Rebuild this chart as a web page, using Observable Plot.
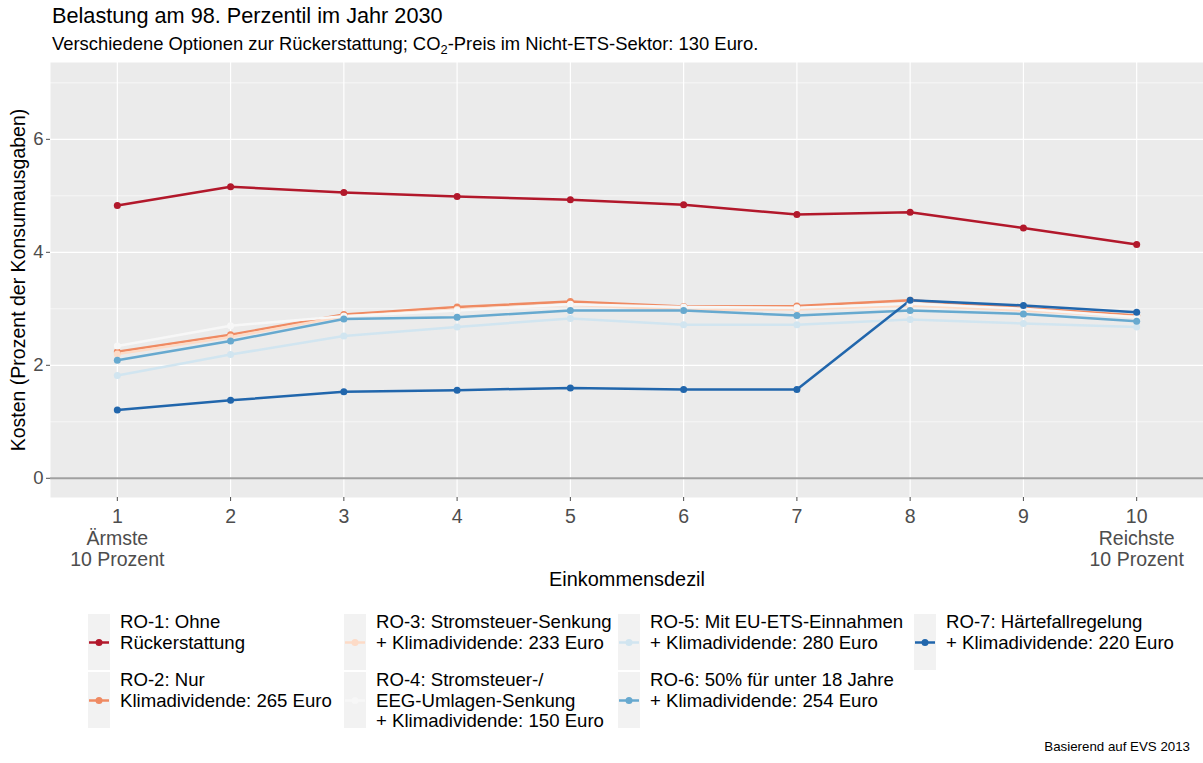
<!DOCTYPE html>
<html><head><meta charset="utf-8">
<script src="https://cdn.jsdelivr.net/npm/d3@7"></script>
<script src="https://cdn.jsdelivr.net/npm/@observablehq/plot@0.6"></script>
<style>
body{margin:0;background:#fff;font-family:"Liberation Sans",Arial,sans-serif;color:#000;}
#wrap{position:relative;width:1203px;height:763px;overflow:hidden;}
#title{position:absolute;left:52px;top:5px;font-size:21.7px;line-height:1;white-space:nowrap;}
#subtitle{position:absolute;left:52px;top:35px;font-size:18.4px;line-height:1;white-space:nowrap;}
#subtitle .sub{font-size:0.7em;position:relative;top:0.3em;}
#chart{position:absolute;left:0;top:55px;}
.leg{position:absolute;}
.legtext{position:absolute;font-size:18.6px;line-height:20.5px;white-space:pre;}
#caption{position:absolute;right:13px;top:740px;font-size:13.3px;line-height:1;white-space:nowrap;}
</style></head><body>
<div id="wrap">
 <div id="title">Belastung am 98. Perzentil im Jahr 2030</div>
 <div id="subtitle">Verschiedene Optionen zur Rückerstattung; CO<span class="sub">2</span>-Preis im Nicht-ETS-Sektor: 130 Euro.</div>
 <div id="chart"></div>
 <div id="legend"></div>
 <div id="caption">Basierend auf EVS 2013</div>
</div>
<script>
const deciles = [1, 2, 3, 4, 5, 6, 7, 8, 9, 10];
const decileTickLabels = ["1\nÄrmste\n10 Prozent", "2", "3", "4", "5", "6", "7", "8", "9", "10\nReichste\n10 Prozent"];
const yTicks = [0, 2, 4, 6];

const seriesNames = ["RO-1", "RO-2", "RO-3", "RO-4", "RO-5", "RO-6", "RO-7"];
const seriesLabels = [
  "RO-1: Ohne\nRückerstattung",
  "RO-2: Nur\nKlimadividende: 265 Euro",
  "RO-3: Stromsteuer-Senkung\n+ Klimadividende: 233 Euro",
  "RO-4: Stromsteuer-/\nEEG-Umlagen-Senkung\n+ Klimadividende: 150 Euro",
  "RO-5: Mit EU-ETS-Einnahmen\n+ Klimadividende: 280 Euro",
  "RO-6: 50% für unter 18 Jahre\n+ Klimadividende: 254 Euro",
  "RO-7: Härtefallregelung\n+ Klimadividende: 220 Euro"
];
const seriesColors = ["#b2182b", "#ef8a62", "#fddbc7", "#f7f7f7", "#d1e5f0", "#67a9cf", "#2166ac"];

const ro1 = [4.83, 5.16, 5.06, 4.99, 4.93, 4.84, 4.67, 4.71, 4.43, 4.14];
const ro2 = [2.24, 2.54, 2.90, 3.03, 3.13, 3.04, 3.05, 3.15, 3.02, 2.88];
const ro3 = [2.20, 2.50, 2.87, 2.99, 3.07, 2.98, 2.99, 3.06, 2.97, 2.86];
const ro4 = [2.34, 2.70, 2.87, 2.97, 3.08, 3.03, 3.02, 3.09, 3.00, 2.85];
const ro5 = [1.82, 2.19, 2.52, 2.68, 2.83, 2.72, 2.72, 2.81, 2.74, 2.68];
const ro6 = [2.09, 2.43, 2.82, 2.85, 2.97, 2.97, 2.88, 2.97, 2.91, 2.78];
const ro7 = [1.21, 1.38, 1.53, 1.56, 1.60, 1.57, 1.57, 3.15, 3.06, 2.94];
const seriesValues = [ro1, ro2, ro3, ro4, ro5, ro6, ro7];

const rows = seriesNames.flatMap((s, si) =>
  deciles.map((d, i) => ({series: s, decile: d, value: seriesValues[si][i]})));

const font = "'Liberation Sans', Arial, sans-serif";

const chart = Plot.plot({
  width: 1203,
  height: 545,
  marginTop: 7,
  marginBottom: 103,
  marginLeft: 50,
  marginRight: 0,
  style: {fontFamily: font, background: "transparent", overflow: "visible"},
  x: {domain: [0.41, 10.59]},
  y: {domain: [-0.34, 7.36]},
  color: {domain: seriesNames, range: seriesColors},
  marks: [
    Plot.frame({fill: "#ebebeb", stroke: "none"}),
    Plot.ruleY([1, 3, 5, 7], {stroke: "#ffffff", strokeWidth: 0.6}),
    Plot.ruleY(yTicks, {stroke: "#ffffff", strokeWidth: 1.2}),
    Plot.ruleX(deciles, {stroke: "#ffffff", strokeWidth: 1.2}),
    Plot.ruleY([0], {stroke: "#a0a0a0", strokeWidth: 2}),
    Plot.axisY({ticks: yTicks, tickSize: 4, tickPadding: 3, fontSize: 18.5, color: "#4d4d4d", label: null}),
    Plot.axisX({ticks: deciles, tickSize: 4, tickPadding: 7, fontSize: 19.5, lineHeight: 1.08, color: "#4d4d4d", label: null,
      tickFormat: (d) => decileTickLabels[deciles.indexOf(d)]}),
    Plot.text(["Kosten (Prozent der Konsumausgaben)"], {frameAnchor: "left", dx: -32, rotate: -90, textAnchor: "middle", fontSize: 19.5, fill: "#000"}),
    Plot.text(["Einkommensdezil"], {frameAnchor: "bottom", dy: 82, fontSize: 19.9, fill: "#000", lineAnchor: "middle"}),
    Plot.line(rows, {x: "decile", y: "value", z: "series", stroke: "series", strokeWidth: 2.5}),
    Plot.dot(rows, {x: "decile", y: "value", fill: "series", r: 3.5})
  ]
});
document.getElementById("chart").appendChild(chart);

// legend
const legend = document.getElementById("legend");
const colX = [88, 344, 618, 914];
const rowY = [614, 672];
seriesNames.forEach((s, i) => {
  const col = Math.floor(i / 2), row = i % 2;
  const x = colX[col], y = rowY[row];
  const key = document.createElementNS("http://www.w3.org/2000/svg", "svg");
  key.setAttribute("width", 22); key.setAttribute("height", 56);
  key.setAttribute("class", "leg");
  key.style.left = x + "px"; key.style.top = y + "px";
  key.innerHTML = `<rect width="22" height="56" fill="#f2f2f2"/>
    <line x1="1" x2="21" y1="28.5" y2="28.5" stroke="${seriesColors[i]}" stroke-width="2.5"/>
    <circle cx="11" cy="28.5" r="3.5" fill="${seriesColors[i]}"/>`;
  legend.appendChild(key);
  const t = document.createElement("div");
  t.className = "legtext";
  t.style.left = (x + 32) + "px"; t.style.top = (y - 2) + "px";
  t.textContent = seriesLabels[i];
  legend.appendChild(t);
});
</script>
</body></html>
